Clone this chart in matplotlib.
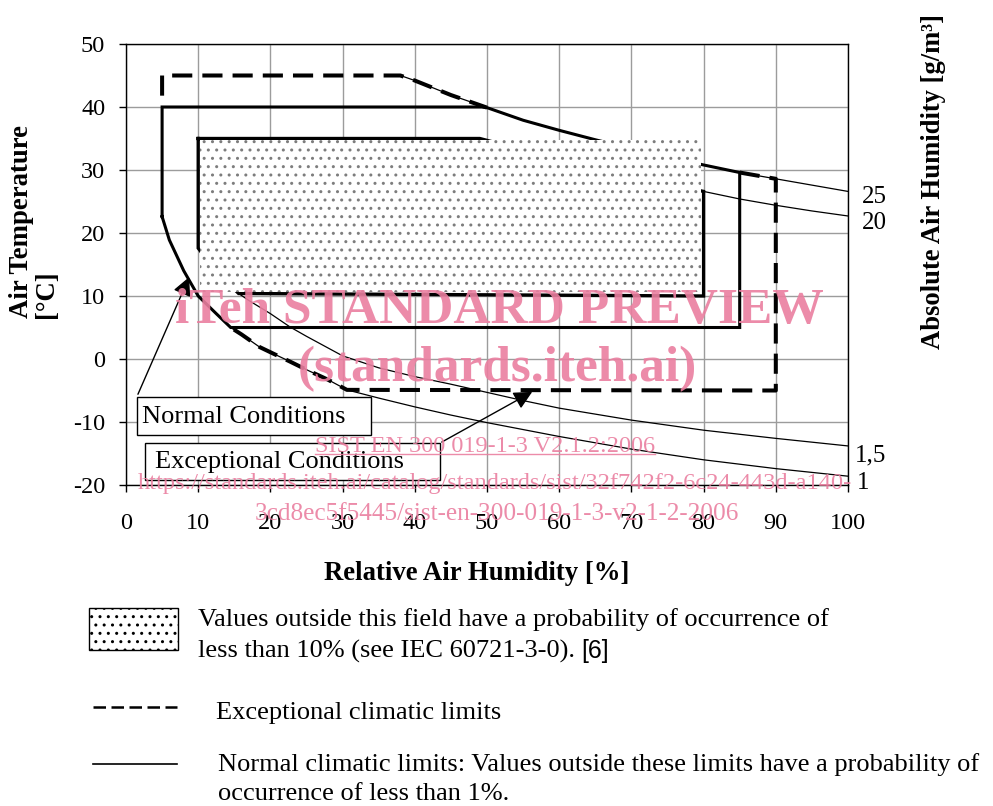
import numpy as np
import matplotlib
matplotlib.use('Agg')
import matplotlib.pyplot as plt
from matplotlib.patches import Rectangle
from matplotlib.lines import Line2D

plt.rcParams['font.family'] = ['Liberation Serif', 'DejaVu Serif']
plt.rcParams['axes.unicode_minus'] = False
plt.rcParams['hatch.color'] = '#7d7d7d'
plt.rcParams['hatch.linewidth'] = 1.0

# absolute air humidity isolines (x = RH %, y = temperature degC)
ah25_x = [38, 40, 45, 50, 55, 60, 65, 70, 75, 80, 85, 90, 95, 100]
ah25_y = [45, 44.2, 41.9, 39.9, 37.9, 36.3, 34.8, 33.4, 32.1, 30.8, 29.6, 28.6, 27.6, 26.6]
ah20_x = [49, 55, 60, 65, 70, 75, 80, 85, 90, 95, 100]
ah20_y = [35, 33.2, 31.8, 30.4, 29.1, 27.8, 26.6, 25.4, 24.4, 23.5, 22.7]
ah15_x = [10, 12, 14, 15.6, 17, 20, 22.7, 25, 30, 35, 40, 45, 50, 55, 60, 70, 80, 90, 100]
ah15_y = [17.6, 14.6, 12.2, 10.4, 9.3, 7.2, 5.1, 3.6, 0.5, -1.4, -2.8, -4.0, -5.3, -6.6, -7.8, -9.7, -11.3, -12.6, -13.8]
ah1_x = [5, 6, 8, 10, 12.5, 14.5, 16, 18.5, 20.5, 22.7, 25, 28, 30.6, 35, 40, 45, 50, 55, 60, 70, 80, 90, 100]
ah1_y = [22.6, 18.9, 14, 10, 7.2, 5.0, 3.9, 1.9, 0.8, -0.4, -1.7, -3.3, -4.9, -6.2, -7.6, -8.9, -10.1, -11.2, -12.3, -14.3, -16.0, -17.4, -18.6]
iso_labels = ['25', '20', '1,5', '1']
iso_label_x = [101.9, 101.9, 100.9, 101.2]
iso_label_y = [25.7, 21.6, -15.3, -19.7]

# climatic limits
normal_rh = (5, 85)
normal_t = (5, 40)
exc_rh = (5, 90)
exc_t = (-5, 45)
field_rh = (10, 80)
field_t = (10, 35)

ah25_x, ah25_y = np.array(ah25_x), np.array(ah25_y)
ah20_x, ah20_y = np.array(ah20_x), np.array(ah20_y)
ah15_x, ah15_y = np.array(ah15_x), np.array(ah15_y)
ah1_x, ah1_y = np.array(ah1_x), np.array(ah1_y)

fig = plt.figure(figsize=(9.93, 8.06), dpi=100)
ax = fig.add_axes([126 / 993, 1 - 485 / 806, 722 / 993, 441 / 806])
ax.set_xlim(0, 100)
ax.set_ylim(-20, 50)
ax.set_xticks(np.arange(0, 101, 10))
ax.set_yticks(np.arange(-20, 51, 10))
ax.grid(True, color='#9c9c9c', lw=1.0, zorder=0)
ax.set_axisbelow(True)
ax.tick_params(labelsize=17.5, direction='out', length=5, width=1, right=False, top=False)
ax.tick_params(axis='y', pad=10)
ax.tick_params(axis='x', pad=15)
for s in ax.spines.values():
    s.set_linewidth(1.0)
    s.set_color('black')

# thin isolines
for xs, ys in [(ah25_x, ah25_y), (ah20_x, ah20_y), (ah15_x, ah15_y), (ah1_x, ah1_y)]:
    ax.plot(xs, ys, color='black', lw=0.9, zorder=2)
for lab, xx, yy in zip(iso_labels, iso_label_x, iso_label_y):
    ax.text(xx, yy, lab, fontsize=18, va='center', ha='left', clip_on=False)

# exceptional limits (dashed), only where they leave the normal limits
dash = (5, 2.5)
t1 = ah25_x <= 50
ax.plot(np.concatenate([[exc_rh[0], exc_rh[0]], ah25_x[t1]]),
        np.concatenate([[41.8, exc_t[1]], ah25_y[t1]]),
        color='black', lw=2.9, dashes=dash, zorder=3)
t2 = (ah25_x >= normal_rh[1]) & (ah25_x <= exc_rh[1])
low = (ah1_y >= exc_t[0]) & (ah1_x >= 14.5)
ax.plot(np.concatenate([ah25_x[t2], [exc_rh[1]], ah1_x[low][::-1]]),
        np.concatenate([ah25_y[t2], [exc_t[0]], ah1_y[low][::-1]]),
        color='black', lw=2.9, dashes=dash, zorder=3)

# normal limits (solid)
ntop = (ah25_y <= normal_t[1]) & (ah25_x <= normal_rh[1])
nlow = ah1_y >= normal_t[0]
nx = np.concatenate([[normal_rh[0], normal_rh[0], 49.3], ah25_x[ntop], [normal_rh[1]], ah1_x[nlow][::-1]])
ny = np.concatenate([[ah1_y[0], normal_t[1], normal_t[1]], ah25_y[ntop], [normal_t[0]], ah1_y[nlow][::-1]])
ax.plot(nx, ny, color='black', lw=2.2, zorder=4, solid_joinstyle='miter')

# 10 % field: corners cut by the 20 and 1,5 isolines
f20 = ah20_x <= field_rh[1]
f15 = ah15_x <= 15.6
fx = np.concatenate([[field_rh[0]], ah20_x[f20], [field_rh[1]], ah15_x[f15][::-1], [field_rh[0]]])
fy = np.concatenate([[field_t[1]], ah20_y[f20], [field_t[0]], ah15_y[f15][::-1], [field_t[1]]])
ax.plot(fx, fy, color='black', lw=2.4, zorder=4, solid_joinstyle='miter')
dx0, dx1 = field_rh[0] + 0.25, field_rh[1] - 0.3
dy0, dy1 = field_t[0] + 0.6, field_t[1] - 0.3
ax.add_patch(Rectangle((dx0, dy0), dx1 - dx0, dy1 - dy0, facecolor='white', edgecolor='none', zorder=5))
ax.add_patch(Rectangle((dx0, dy0), dx1 - dx0, dy1 - dy0, facecolor='none', edgecolor='#7d7d7d',
                       lw=0, hatch='..', zorder=5))

# annotation boxes
ax.add_patch(Rectangle((1.5, -12.06), 32.5, 6.06, facecolor='white', edgecolor='black', lw=1, zorder=6,
                       clip_on=False))
ax.text(2.2, -9.2, 'Normal Conditions', fontsize=19, va='center', ha='left', zorder=7)
ax.add_patch(Rectangle((2.63, -19.2), 40.8, 5.8, facecolor='white', edgecolor='black', lw=1, zorder=6,
                       clip_on=False))
ax.text(4.0, -16.4, 'Exceptional Conditions', fontsize=19, va='center', ha='left', zorder=7)
ax.annotate('', xy=(8.9, 13.4), xytext=(1.5, -6.0),
            arrowprops=dict(arrowstyle='-|>', color='black', lw=1, mutation_scale=28), zorder=7)
ax.annotate('', xy=(56.6, -5.0), xytext=(43.4, -13.4),
            arrowprops=dict(arrowstyle='-|>', color='black', lw=1, mutation_scale=28), zorder=7)

# axis titles
fig.text(0.480, 0.289, 'Relative Air Humidity [%]', fontsize=19.3, fontweight='bold', ha='center', va='center')
fig.text(0.034, 0.725, 'Air Temperature\n[°C]', fontsize=19.3, fontweight='bold', rotation=90,
         ha='center', va='center', multialignment='left', linespacing=1.0)
fig.text(0.9396, 0.775, 'Absolute Air Humidity [g/m³]', fontsize=19.2, fontweight='bold', rotation=90,
         ha='center', va='center')

# legend below the chart
fs = 19
fig.patches.append(Rectangle((89 / 993, 1 - 650 / 806), 89 / 993, 42 / 806, transform=fig.transFigure,
                             facecolor='white', edgecolor='black', lw=1, hatch='..', figure=fig))
fig.text(198 / 993, 1 - 620 / 806, 'Values outside this field have a probability of occurrence of',
         fontsize=fs, va='center', ha='left')
l2 = fig.text(198 / 993, 1 - 651 / 806, 'less than 10% (see IEC 60721-3-0).', fontsize=fs,
              va='center', ha='left')
fig.lines.append(Line2D([93 / 993, 177 / 993], [1 - 707 / 806] * 2, transform=fig.transFigure,
                        color='black', lw=1.8, dashes=(5, 2.2), figure=fig))
fig.text(216 / 993, 1 - 713 / 806, 'Exceptional climatic limits', fontsize=fs, va='center', ha='left')
fig.lines.append(Line2D([93 / 993, 177 / 993], [1 - 764 / 806] * 2, transform=fig.transFigure,
                        color='black', lw=1.2, figure=fig))
fig.text(218 / 993, 1 - 765 / 806,
         'Normal climatic limits: Values outside these limits have a probability of',
         fontsize=fs, va='center', ha='left')
fig.text(218 / 993, 1 - 794 / 806, 'occurrence of less than 1%.', fontsize=fs, va='center', ha='left')

# watermark
pink = '#ea7fa0'
fig.text(0.503, 1 - 311 / 806, 'iTeh STANDARD PREVIEW', fontsize=37, fontweight='bold', color=pink,
         alpha=0.9, ha='center', va='center', zorder=10)
fig.text(0.501, 1 - 369 / 806, '(standards.iteh.ai)', fontsize=37, fontweight='bold', color=pink,
         alpha=0.9, ha='center', va='center', zorder=10)
sist = fig.text(0.488, 1 - 447 / 806, 'SIST EN 300 019-1-3 V2.1.2:2006', fontsize=17.5, color=pink,
                alpha=0.9, ha='center', va='center', zorder=10)
fig.text(0.498, 1 - 484 / 806,
         'https://standards.iteh.ai/catalog/standards/sist/32f742f2-6c24-443d-a140-',
         fontsize=17.6, color=pink, alpha=0.9, ha='center', va='center', zorder=10)
fig.text(0.500, 1 - 514 / 806, '3cd8ec5f5445/sist-en-300-019-1-3-v2-1-2-2006', fontsize=18.2, color=pink,
         alpha=0.9, ha='center', va='center', zorder=10)

fig.canvas.draw()
inv = fig.transFigure.inverted()
bb = sist.get_window_extent().transformed(inv)
fig.lines.append(Line2D([bb.x0, bb.x1], [bb.y0 + 0.004] * 2, transform=fig.transFigure, color=pink,
                        alpha=0.9, lw=1, figure=fig, zorder=10))
bb2 = l2.get_window_extent().transformed(inv)
fig.text(bb2.x1 + 0.006, 1 - 651 / 806, '[6]', fontsize=18, family=['Liberation Sans', 'DejaVu Sans'],
         va='center', ha='left')

fig.savefig('out.png', dpi=100)
